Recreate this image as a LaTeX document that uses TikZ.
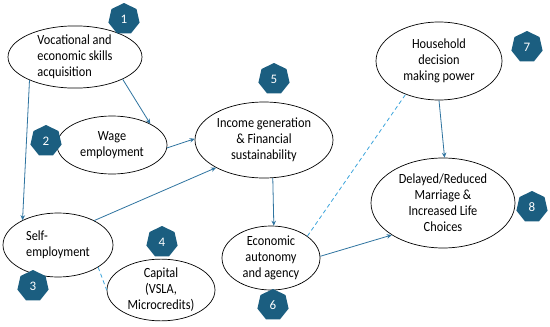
\documentclass[tikz,border=0pt]{standalone}
\usepackage{fontspec}
\setmainfont{Carlito}[FakeStretch=0.88]
\newfontfamily\badgefont{Carlito}
\usetikzlibrary{shapes.geometric,arrows.meta}
\definecolor{arrowblue}{HTML}{2F74A0}
\definecolor{dashblue}{HTML}{3DA5DC}
\definecolor{badgeblue}{HTML}{1B5E80}
\begin{document}
\begin{tikzpicture}[x=1pt,y=-1pt,
  oval/.style={draw=black,line width=0.7pt,ellipse,inner sep=0pt,align=center,
    font=\fontsize{14}{16}\selectfont},
  badge/.style={regular polygon,regular polygon sides=7,fill=badgeblue,text=white,
    minimum size=32pt,inner sep=0pt,font=\badgefont\fontsize{13}{14}\selectfont},
  link/.style={draw=arrowblue,line width=0.8pt,-{Stealth[length=5pt,width=4.5pt]}},
  dlink/.style={draw=dashblue,line width=0.8pt,dashed,dash pattern=on 4pt off 3pt}]
\useasboundingbox[fill=white] (0,0) rectangle (550,327);

\node[oval,minimum width=134pt,minimum height=60pt,align=left] (voc) at (75,57)
  {Vocational and\\economic skills\\acquisition};
\node[oval,minimum width=110pt,minimum height=58pt] (wage) at (112,145)
  {Wage\\employment};
\node[oval,minimum width=138pt,minimum height=76pt] (inc) at (264,140)
  {Income generation\\\& Financial\\sustainability};
\node[oval,minimum width=126pt,minimum height=78pt] (hh) at (439,61)
  {Household\\decision\\making power};
\node[oval,minimum width=144pt,minimum height=90pt] (del) at (443,203)
  {Delayed/Reduced\\Marriage \&\\Increased Life\\Choices};
\node[oval,minimum width=110pt,minimum height=64pt,align=left] (self) at (58,245)
  {Self-\\employment};
\node[oval,minimum width=108pt,minimum height=60pt] (cap) at (161,290)
  {Capital\\(VSLA,\\Microcredits)};
\node[oval,minimum width=98pt,minimum height=64pt] (eco) at (271,258)
  {Economic\\autonomy\\and agency};

\node[badge] (b1) at (124,19) {1};
\node[badge] (b2) at (46,141) {2};
\node[badge] (b3) at (33,286) {3};
\node[badge] (b4) at (162,242) {4};
\node[badge] (b5) at (274,79) {5};
\node[badge] (b6) at (273,305) {6};
\node[badge] (b7) at (527,47) {7};
\node[badge] (b8) at (532,207) {8};

\draw[link] (voc.207) -- (self.145);
\draw[link] (voc.335) -- (wage.29);
\draw[link] (wage.357) -- (inc.179);
\draw[link] (self.34) -- (inc.210);
\draw[link] (inc.283) -- (eco.85);
\draw[link] (eco.2) -- (del.212);
\draw[link] (hh.270) -- (del.88);
\draw[dlink] (eco.31) -- (hh.225);
\draw[dlink] (self.331) -- (cap.180);
\end{tikzpicture}
\end{document}
